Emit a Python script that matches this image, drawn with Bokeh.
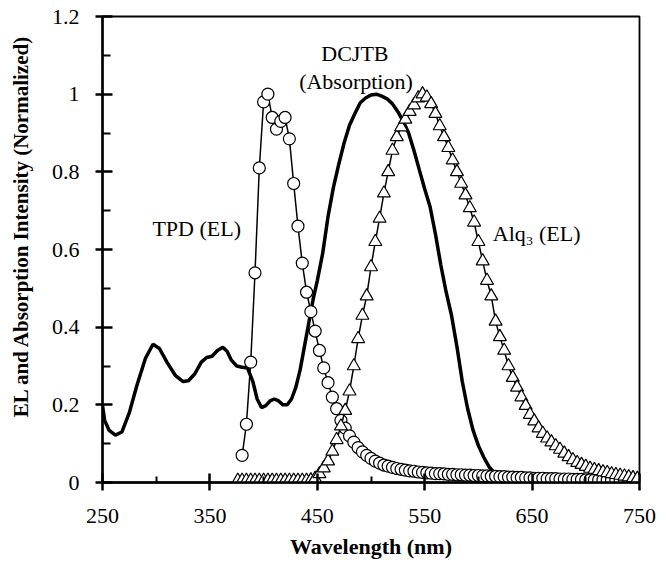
from bokeh.plotting import figure
from bokeh.models import FixedTicker, Range1d
from bokeh.core.properties import value
from bokeh.embed import file_html
from bokeh.resources import INLINE

# ---------------- data ----------------
dcjtb_wl = [250, 252, 256, 262, 268, 275, 282, 290, 297, 303, 310, 318, 325, 330, 336,
            342, 347, 352, 357, 362, 366, 370, 375, 380, 385, 390, 394, 398, 402, 406,
            410, 414, 418, 422, 426, 430, 434, 438, 442, 446, 450, 455, 460, 465, 470,
            475, 480, 485, 490, 495, 500, 505, 510, 515, 520, 525, 530, 535, 540, 545,
            550, 555, 560, 565, 570, 575, 580, 585, 590, 595, 600, 605, 610, 615, 620,
            625, 630, 640]
dcjtb_abs = [0.198, 0.16, 0.135, 0.122, 0.13, 0.18, 0.25, 0.32, 0.356, 0.345, 0.31, 0.275,
             0.26, 0.262, 0.28, 0.31, 0.322, 0.325, 0.34, 0.348, 0.338, 0.315, 0.30, 0.297,
             0.295, 0.26, 0.215, 0.193, 0.198, 0.21, 0.215, 0.21, 0.20, 0.20, 0.215, 0.245,
             0.29, 0.35, 0.41, 0.47, 0.52, 0.59, 0.685, 0.76, 0.82, 0.875, 0.92, 0.95,
             0.978, 0.99, 0.998, 1.0, 0.995, 0.988, 0.975, 0.955, 0.93, 0.90, 0.855, 0.805,
             0.756, 0.71, 0.64, 0.56, 0.49, 0.43, 0.35, 0.26, 0.19, 0.135, 0.095, 0.065,
             0.04, 0.025, 0.013, 0.007, 0.003, 0.0]

tpd_wl = [380, 384, 388, 392, 396, 400, 404, 408, 412, 416, 420, 424, 428, 432, 436,
          440, 444, 448, 452, 456, 460, 464, 468, 472, 476, 480, 484, 488, 492, 496,
          500, 504, 508, 512, 516, 520, 524, 528, 532, 536, 540, 544, 548, 552, 556,
          560, 564, 568, 572, 576, 580, 584, 588, 592, 596, 600, 604, 608, 612, 616,
          620, 624, 628, 632, 636, 640, 644, 648, 652, 656, 660, 664, 668, 672, 676,
          680, 684, 688, 692, 696, 700, 704, 708, 712, 716, 720, 724, 728, 732, 736,
          740, 744, 748]
tpd_el = [0.07, 0.15, 0.31, 0.54, 0.81, 0.98, 1.0, 0.94, 0.91, 0.93, 0.94, 0.885, 0.77,
          0.66, 0.565, 0.49, 0.44, 0.39, 0.34, 0.295, 0.257, 0.22, 0.19, 0.16, 0.14,
          0.12, 0.104, 0.09, 0.079, 0.07, 0.062, 0.055, 0.05, 0.045, 0.042, 0.039, 0.036,
          0.034, 0.032, 0.03, 0.029, 0.027, 0.026, 0.025, 0.024, 0.023, 0.023, 0.022,
          0.021, 0.021, 0.02, 0.02, 0.019, 0.019, 0.018, 0.018, 0.017, 0.017, 0.016,
          0.016, 0.015, 0.015, 0.014, 0.014, 0.013, 0.013, 0.012, 0.012, 0.011, 0.011,
          0.011, 0.010, 0.010, 0.010, 0.009, 0.009, 0.009, 0.008, 0.008, 0.008, 0.007,
          0.007, 0.007, 0.007, 0.006, 0.006, 0.006, 0.006, 0.005, 0.005, 0.005, 0.005,
          0.005]

alq_wl = [376, 380, 384, 388, 392, 396, 400, 404, 408, 412, 416, 420, 424, 428, 432,
          436, 440, 444, 448, 452, 456, 460, 464, 468, 472, 476, 480, 484, 488, 492,
          496, 500, 504, 508, 512, 516, 520, 524, 528, 532, 536, 540, 544, 548, 552,
          556, 560, 564, 568, 572, 576, 580, 584, 588, 592, 596, 600, 604, 608, 612,
          616, 620, 624, 628, 632, 636, 640, 644, 648, 652, 656, 660, 664, 668, 672,
          676, 680, 684, 688, 692, 696, 700, 704, 708, 712, 716, 720, 724, 728, 732,
          736, 740, 744, 748]
alq_el = [0.005, 0.005, 0.005, 0.005, 0.005, 0.005, 0.005, 0.005, 0.005, 0.005, 0.005,
          0.005, 0.005, 0.005, 0.005, 0.005, 0.005, 0.006, 0.01, 0.022, 0.037, 0.055,
          0.08, 0.11, 0.145, 0.185, 0.235, 0.30, 0.37, 0.43, 0.48, 0.555, 0.62, 0.68,
          0.745, 0.80, 0.855, 0.89, 0.915, 0.935, 0.955, 0.972, 0.99, 1.0, 0.992, 0.975,
          0.95, 0.918, 0.89, 0.862, 0.83, 0.80, 0.77, 0.74, 0.707, 0.67, 0.62, 0.57,
          0.52, 0.48, 0.415, 0.375, 0.34, 0.30, 0.27, 0.245, 0.22, 0.198, 0.175, 0.158,
          0.14, 0.126, 0.114, 0.104, 0.094, 0.085, 0.075, 0.066, 0.058, 0.051, 0.046,
          0.041, 0.036, 0.033, 0.03, 0.027, 0.025, 0.022, 0.02, 0.018, 0.016, 0.014,
          0.012, 0.01]

x_ticks = [250, 350, 450, 550, 650, 750]
x_minor = [300, 400, 500, 600, 700]
y_ticks = [0, 0.2, 0.4, 0.6, 0.8, 1.0, 1.2]
y_tick_labels = ["0", "0.2", "0.4", "0.6", "0.8", "1", "1.2"]
y_minor = [0.1, 0.3, 0.5, 0.7, 0.9, 1.1]

FONT = "Liberation Serif"
TICK = "black"

p = figure(width=658, height=564, output_backend="svg", toolbar_location=None,
           x_range=Range1d(250, 750), y_range=Range1d(0, 1.2),
           min_border_left=102, min_border_right=19, min_border_top=16, min_border_bottom=82)
p.background_fill_color = "white"
p.border_fill_color = "white"
p.grid.visible = False
p.outline_line_color = "black"
p.outline_line_width = 1.8

# DCJTB absorption (thick line)
p.line(dcjtb_wl, dcjtb_abs, line_color="black", line_width=3.5)
# TPD EL (circles)
p.line(tpd_wl, tpd_el, line_color="black", line_width=1.5)
p.scatter(tpd_wl, tpd_el, marker="circle", size=12, fill_color="white",
          line_color="black", line_width=1.2)
# Alq3 EL (triangles)
p.line(alq_wl, alq_el, line_color="black", line_width=1.5)
p.scatter(alq_wl, alq_el, marker="triangle", size=13, fill_color="white",
          line_color="black", line_width=1.2)

# annotations
p.text(x=[337.7], y=[0.655], text=["TPD (EL)"], text_font=value(FONT),
       text_font_size="22px", text_align="center", text_baseline="middle", text_color="black")
p.text(x=[485], y=[1.105], text=["DCJTB"], text_font=value(FONT),
       text_font_size="22px", text_align="center", text_baseline="middle", text_color="black")
p.text(x=[486], y=[1.033], text=["(Absorption)"], text_font=value(FONT),
       text_font_size="22px", text_align="center", text_baseline="middle", text_color="black")
p.text(x=[613.4], y=[0.642], text=["Alq\u2083 (EL)"], text_font=value(FONT),
       text_font_size="22px", text_align="left", text_baseline="middle", text_color="black")

# x axis
xa = p.xaxis[0]
xa.ticker = FixedTicker(ticks=x_ticks, minor_ticks=x_minor)
xa.axis_label = "Wavelength (nm)"
xa.axis_label_text_font = FONT
xa.axis_label_text_font_style = "bold"
xa.axis_label_text_font_size = "22px"
xa.axis_label_text_color = "black"
xa.axis_label_standoff = 8
xa.major_label_text_font = FONT
xa.major_label_text_font_size = "22px"
xa.major_label_text_color = "black"
xa.major_label_standoff = 18
xa.axis_line_width = 2.5
xa.axis_line_color = "black"
xa.major_tick_line_color = TICK
xa.major_tick_line_width = 2.5
xa.major_tick_in = 9
xa.major_tick_out = 8
xa.minor_tick_line_color = TICK
xa.minor_tick_line_width = 2
xa.minor_tick_in = 6
xa.minor_tick_out = 0

# y axis
ya = p.yaxis[0]
ya.ticker = FixedTicker(ticks=y_ticks, minor_ticks=y_minor)
ya.major_label_overrides = {t: s for t, s in zip(y_ticks, y_tick_labels)}
ya.axis_label = "\u00a0" * 9 + "EL and Absorption Intensity (Normalized)"
ya.axis_label_text_font = FONT
ya.axis_label_text_font_style = "bold"
ya.axis_label_text_font_size = "21px"
ya.axis_label_text_color = "black"
ya.axis_label_standoff = 16
ya.major_label_text_font = FONT
ya.major_label_text_font_size = "22px"
ya.major_label_text_color = "black"
ya.major_label_standoff = 16
ya.axis_line_width = 2.5
ya.axis_line_color = "black"
ya.major_tick_line_color = TICK
ya.major_tick_line_width = 2.5
ya.major_tick_in = 10
ya.major_tick_out = 7
ya.minor_tick_line_color = TICK
ya.minor_tick_line_width = 2
ya.minor_tick_in = 8
ya.minor_tick_out = 0

open("out.html", "w").write(file_html(p, INLINE))
